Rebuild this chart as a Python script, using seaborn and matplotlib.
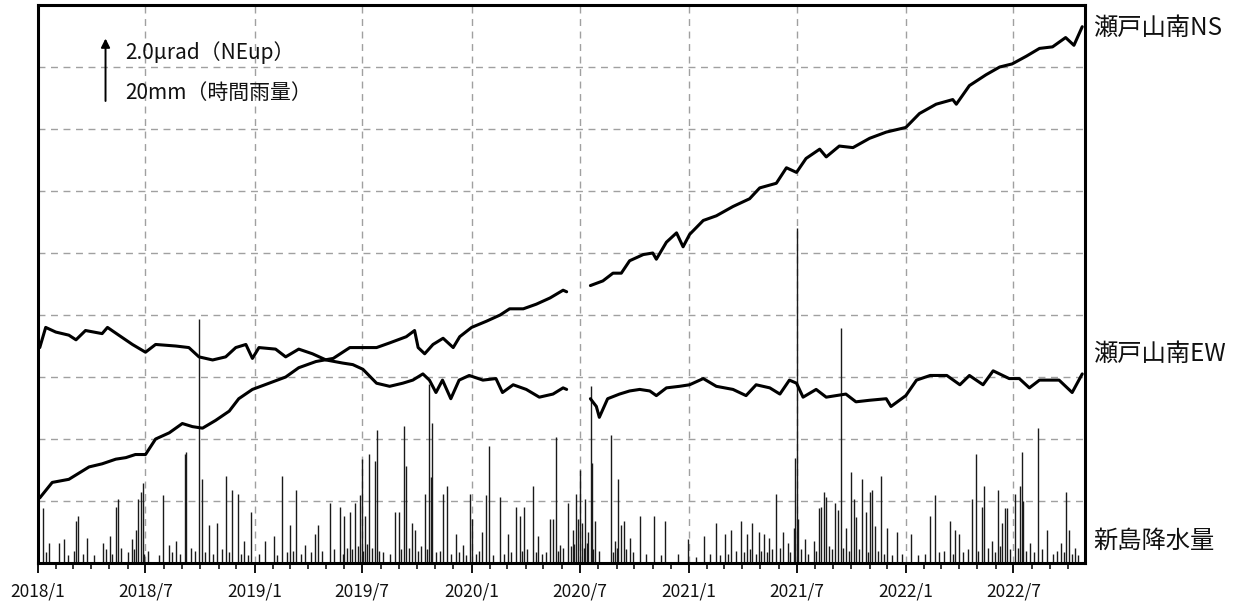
import pandas as pd
import matplotlib.pyplot as plt
import matplotlib.dates as mdates
import seaborn as sns

# Seto-yamaminami tiltmeter (NS / EW, microradian, relative) and Niijima hourly rainfall (mm)
ns_dates = [
    "2018-01-04", "2018-01-25", "2018-02-22", "2018-03-11", "2018-03-28", "2018-04-19",
    "2018-05-12", "2018-05-29", "2018-06-14", "2018-07-01", "2018-07-18", "2018-08-10",
    "2018-09-01", "2018-09-18", "2018-10-05", "2018-10-27", "2018-11-19", "2018-12-05",
    "2018-12-28", "2019-01-25", "2019-02-22", "2019-03-16", "2019-04-14", "2019-05-13",
    "2019-06-10", "2019-07-03", "2019-07-25", "2019-08-16", "2019-09-13", "2019-09-27",
    "2019-10-03", "2019-10-14", "2019-10-28", "2019-11-14", "2019-12-01", "2019-12-12",
    "2020-01-01", "2020-01-26", "2020-02-18", "2020-03-05", "2020-03-28", "2020-04-19",
    "2020-05-12", "2020-06-03", "2020-06-09",
    # observation gap, data resumes
    "2020-07-19", "2020-08-09", "2020-08-26", "2020-09-09", "2020-09-23", "2020-10-16",
    "2020-11-01", "2020-11-07", "2020-11-24", "2020-12-11", "2020-12-22", "2021-01-02",
    "2021-01-25", "2021-02-16", "2021-03-16", "2021-04-13", "2021-04-30", "2021-05-28",
    "2021-06-14", "2021-07-01", "2021-07-17", "2021-08-09", "2021-08-20", "2021-09-11",
    "2021-10-04", "2021-11-01", "2021-11-29", "2022-01-01", "2022-01-24", "2022-02-21",
    "2022-03-21", "2022-03-27", "2022-04-18", "2022-05-16", "2022-06-08", "2022-06-29",
    "2022-07-23", "2022-08-14", "2022-09-05", "2022-09-27", "2022-10-11", "2022-10-25",
]
ns_values = [
    2.1, 2.6, 2.7, 2.9, 3.1, 3.2,
    3.35, 3.4, 3.5, 3.5, 4.0, 4.2,
    4.5, 4.4, 4.35, 4.6, 4.9, 5.3,
    5.6, 5.8, 6.0, 6.3, 6.5, 6.6,
    6.95, 6.95, 6.95, 7.1, 7.3, 7.5,
    6.95, 6.75, 7.05, 7.25, 6.95, 7.3,
    7.6, 7.8, 8.0, 8.2, 8.2, 8.35,
    8.55, 8.8, 8.75,
    8.95, 9.1, 9.35, 9.35, 9.75, 9.95,
    10.0, 9.8, 10.35, 10.65, 10.2, 10.6,
    11.05, 11.2, 11.5, 11.75, 12.1, 12.25,
    12.75, 12.6, 13.05, 13.35, 13.1, 13.45,
    13.4, 13.7, 13.9, 14.05, 14.5, 14.8,
    14.95, 14.8, 15.4, 15.75, 16.0, 16.1,
    16.35, 16.6, 16.65, 16.95, 16.7, 17.3,
]
ns_segment = [1] * 45 + [2] * 42

ew_dates = [
    "2018-01-04", "2018-01-14", "2018-01-31", "2018-02-22", "2018-03-06", "2018-03-22",
    "2018-04-19", "2018-04-28", "2018-05-17", "2018-06-09", "2018-07-01", "2018-07-18",
    "2018-08-21", "2018-09-12", "2018-09-29", "2018-10-22", "2018-11-13", "2018-11-30",
    "2018-12-17", "2018-12-28", "2019-01-08", "2019-02-05", "2019-02-22", "2019-03-16",
    "2019-04-08", "2019-05-01", "2019-05-29", "2019-06-15", "2019-07-02", "2019-07-25",
    "2019-08-16", "2019-09-07", "2019-09-24", "2019-10-11", "2019-10-22", "2019-11-02",
    "2019-11-13", "2019-11-27", "2019-12-11", "2019-12-28", "2020-01-20", "2020-02-11",
    "2020-02-22", "2020-03-11", "2020-04-02", "2020-04-24", "2020-05-17", "2020-06-03",
    "2020-06-09",
    # observation gap, data resumes
    "2020-07-19", "2020-07-29", "2020-08-03", "2020-08-17", "2020-09-06", "2020-09-23",
    "2020-10-10", "2020-10-27", "2020-11-07", "2020-11-24", "2020-12-16", "2021-01-02",
    "2021-01-25", "2021-02-16", "2021-03-16", "2021-04-07", "2021-04-24", "2021-05-17",
    "2021-06-03", "2021-06-19", "2021-07-01", "2021-07-12", "2021-08-03", "2021-08-20",
    "2021-09-22", "2021-10-09", "2021-11-01", "2021-11-29", "2021-12-07", "2022-01-01",
    "2022-01-19", "2022-02-11", "2022-03-11", "2022-04-02", "2022-04-18", "2022-05-11",
    "2022-05-28", "2022-06-24", "2022-07-11", "2022-07-28", "2022-08-14", "2022-09-16",
    "2022-10-08", "2022-10-25",
]
ew_values = [
    6.95, 7.6, 7.45, 7.35, 7.2, 7.5,
    7.4, 7.6, 7.35, 7.05, 6.8, 7.05,
    7.0, 6.95, 6.65, 6.55, 6.65, 6.95,
    7.05, 6.6, 6.95, 6.9, 6.65, 6.9,
    6.75, 6.55, 6.45, 6.4, 6.25, 5.8,
    5.7, 5.8, 5.9, 6.1, 5.9, 5.5,
    5.9, 5.3, 5.9, 6.05, 5.9, 5.95,
    5.5, 5.75, 5.6, 5.35, 5.45, 5.65,
    5.6,
    5.3, 5.05, 4.7, 5.3, 5.45, 5.55,
    5.6, 5.55, 5.4, 5.65, 5.7, 5.75,
    5.95, 5.7, 5.6, 5.4, 5.75, 5.65,
    5.45, 5.9, 5.8, 5.35, 5.6, 5.35,
    5.45, 5.2, 5.25, 5.3, 5.05, 5.4,
    5.9, 6.05, 6.05, 5.75, 6.05, 5.75,
    6.2, 5.95, 5.95, 5.65, 5.9, 5.9,
    5.5, 6.1,
]
ew_segment = [1] * 49 + [2] * 44

# the taller rain events
rain_dates = [
    "2018-01-09", "2018-01-20", "2018-02-06", "2018-02-14", "2018-03-06", "2018-03-10",
    "2018-03-25", "2018-04-20", "2018-05-02", "2018-05-12", "2018-05-15", "2018-06-09",
    "2018-06-15", "2018-06-19", "2018-06-23", "2018-06-26", "2018-07-30", "2018-08-10",
    "2018-08-21", "2018-09-05", "2018-09-08", "2018-09-29", "2018-10-04", "2018-10-16",
    "2018-10-30", "2018-11-14", "2018-11-24", "2018-12-03", "2018-12-14", "2018-12-25",
    "2019-01-19", "2019-02-02", "2019-02-16", "2019-03-02", "2019-03-11", "2019-03-26",
    "2019-04-12", "2019-04-18", "2019-05-07", "2019-05-24", "2019-06-01", "2019-06-10",
    "2019-06-18", "2019-06-27", "2019-06-30", "2019-07-05", "2019-07-13", "2019-07-22",
    "2019-07-26", "2019-08-25", "2019-09-01", "2019-09-09", "2019-09-12", "2019-09-22",
    "2019-09-27", "2019-10-14", "2019-10-21", "2019-10-24", "2019-10-27", "2019-11-14",
    "2019-11-21", "2019-12-06", "2019-12-17", "2019-12-29", "2020-01-02", "2020-01-19",
    "2020-01-25", "2020-01-30", "2020-02-17", "2020-03-02", "2020-03-15", "2020-03-22",
    "2020-03-29", "2020-04-13", "2020-04-22", "2020-05-12", "2020-05-17", "2020-05-22",
    "2020-05-28", "2020-06-12", "2020-06-19", "2020-06-25", "2020-06-28", "2020-07-02",
    "2020-07-05", "2020-07-10", "2020-07-15", "2020-07-20", "2020-07-21", "2020-07-27",
    "2020-08-23", "2020-08-29", "2020-09-04", "2020-09-09", "2020-09-13", "2020-09-24",
    "2020-10-10", "2020-11-03", "2020-11-22", "2020-12-13", "2020-12-30", "2021-01-26",
    "2021-02-15", "2021-03-02", "2021-03-13", "2021-03-29", "2021-04-09", "2021-04-17",
    "2021-04-29", "2021-05-08", "2021-05-16", "2021-05-28", "2021-06-09", "2021-06-16",
    "2021-06-26", "2021-06-29", "2021-07-02", "2021-07-04", "2021-07-15", "2021-07-31",
    "2021-08-08", "2021-08-12", "2021-08-16", "2021-08-20", "2021-09-03", "2021-09-09",
    "2021-09-14", "2021-09-22", "2021-10-01", "2021-10-05", "2021-10-09", "2021-10-20",
    "2021-10-26", "2021-11-01", "2021-11-05", "2021-11-10", "2021-11-21", "2021-12-01",
    "2021-12-17", "2022-01-10", "2022-02-11", "2022-02-19", "2022-03-17", "2022-03-25",
    "2022-04-01", "2022-04-22", "2022-04-29", "2022-05-09", "2022-05-13", "2022-05-26",
    "2022-06-06", "2022-06-12", "2022-06-17", "2022-06-21", "2022-07-04", "2022-07-12",
    "2022-07-15", "2022-07-18", "2022-07-29", "2022-08-12", "2022-08-26", "2022-09-19",
    "2022-09-28", "2022-10-03", "2022-10-12",
]
rain_mm = [
    17.6, 6.5, 6.5, 7.6, 13.5, 15.3,
    8.2, 6.5, 8.8, 18.2, 20.6, 7.6,
    10.6, 20.6, 22.9, 25.9, 21.8, 5.9,
    7.0, 35.3, 35.9, 78.8, 27.0, 12.4,
    12.9, 28.2, 23.5, 22.4, 7.0, 16.5,
    7.0, 8.8, 28.2, 12.4, 23.5, 5.9,
    9.4, 12.4, 19.4, 18.2, 15.3, 16.5,
    19.4, 21.8, 33.5, 15.3, 35.3, 32.9,
    42.9, 16.5, 16.5, 44.1, 31.2, 12.9,
    10.6, 22.4, 57.6, 27.6, 45.3, 22.4,
    24.7, 9.4, 5.9, 22.4, 14.1, 10.0,
    21.8, 37.6, 21.2, 9.4, 18.2, 15.3,
    18.2, 24.7, 8.8, 14.1, 14.1, 40.6,
    5.9, 19.4, 10.6, 22.4, 14.1, 30.0,
    12.9, 20.6, 10.0, 57.0, 32.4, 13.5,
    41.2, 7.0, 27.0, 12.4, 13.5, 8.2,
    15.3, 15.3, 13.5, 2.9, 7.6, 8.8,
    12.9, 9.4, 10.6, 13.5, 9.4, 12.9,
    10.0, 9.4, 8.2, 22.4, 10.0, 6.5,
    11.2, 34.0, 108.0, 14.1, 7.6, 7.0,
    17.6, 18.2, 22.9, 21.2, 19.4, 17.0,
    75.9, 11.2, 29.4, 20.6, 14.7, 27.0,
    16.5, 22.9, 23.5, 11.8, 28.2, 11.2,
    10.0, 9.4, 15.3, 21.8, 13.5, 10.6,
    9.4, 20.6, 35.3, 18.2, 24.7, 7.0,
    23.5, 12.9, 17.6, 17.6, 22.4, 24.7,
    35.9, 20.0, 6.5, 43.5, 10.6, 6.5,
    22.9, 10.6, 4.7,
]

# light showers forming the low fringe along the bottom
drizzle_dates = [
    "2018-01-15", "2018-02-20", "2018-03-03", "2018-03-18", "2018-04-05", "2018-04-26",
    "2018-05-06", "2018-05-21", "2018-06-02", "2018-06-12", "2018-06-29", "2018-07-06",
    "2018-07-24", "2018-08-15", "2018-08-28", "2018-09-15", "2018-09-22", "2018-10-09",
    "2018-10-22", "2018-11-06", "2018-11-19", "2018-12-08", "2018-12-20", "2019-01-08",
    "2019-02-08", "2019-02-24", "2019-03-06", "2019-03-19", "2019-04-05", "2019-04-24",
    "2019-05-14", "2019-05-30", "2019-06-05", "2019-06-14", "2019-06-23", "2019-07-02",
    "2019-07-09", "2019-07-17", "2019-07-29", "2019-08-05", "2019-08-17", "2019-09-04",
    "2019-09-17", "2019-10-02", "2019-10-08", "2019-10-18", "2019-11-02", "2019-11-08",
    "2019-11-27", "2019-12-11", "2019-12-23", "2020-01-09", "2020-01-14", "2020-02-06",
    "2020-02-25", "2020-03-08", "2020-03-26", "2020-04-04", "2020-04-18", "2020-04-28",
    "2020-05-06", "2020-05-26", "2020-06-03", "2020-06-16", "2020-06-22", "2020-07-08",
    "2020-07-13", "2020-07-24", "2020-08-02", "2020-08-26", "2020-09-02", "2020-09-17",
    "2020-09-29", "2020-10-21", "2020-11-14", "2021-01-12", "2021-02-05", "2021-02-23",
    "2021-03-07", "2021-03-21", "2021-04-03", "2021-04-13", "2021-04-23", "2021-05-03",
    "2021-05-12", "2021-05-21", "2021-06-03", "2021-06-20", "2021-07-08", "2021-07-20",
    "2021-08-03", "2021-08-24", "2021-08-29", "2021-09-18", "2021-09-27", "2021-10-14",
    "2021-10-30", "2021-11-15", "2021-11-26", "2021-12-08", "2021-12-25", "2022-01-22",
    "2022-02-03", "2022-02-26", "2022-03-06", "2022-03-21", "2022-04-08", "2022-04-15",
    "2022-05-03", "2022-05-19", "2022-05-31", "2022-06-09", "2022-06-25", "2022-07-08",
    "2022-07-22", "2022-08-04", "2022-08-18", "2022-09-06", "2022-09-13", "2022-09-24",
    "2022-10-07", "2022-10-18",
]
drizzle_mm = [
    3.5, 2.5, 4.0, 3.0, 2.5, 4.5,
    3.0, 5.0, 3.5, 4.5, 3.0, 4.0,
    2.5, 3.5, 3.0, 5.0, 4.0, 3.5,
    3.0, 4.5, 3.5, 3.0, 2.5, 3.0,
    2.5, 3.5, 4.0, 3.0, 3.5, 4.0,
    4.5, 3.0, 5.0, 4.5, 5.5, 4.0,
    6.0, 5.0, 4.0, 3.5, 3.0, 4.5,
    5.0, 4.0, 5.5, 4.5, 3.5, 4.0,
    3.0, 3.5, 2.5, 3.0, 4.0, 2.5,
    3.0, 3.5, 4.0, 4.5, 3.5, 3.0,
    3.5, 4.0, 5.0, 5.5, 6.0, 5.0,
    6.5, 4.5, 4.0, 3.5, 5.0, 4.5,
    3.5, 3.0, 2.5, 2.0, 3.0, 2.5,
    3.0, 4.0, 3.5, 4.5, 3.0, 4.0,
    3.5, 4.5, 5.0, 3.5, 4.5, 3.0,
    4.0, 5.5, 4.5, 5.0, 4.0, 4.5,
    3.5, 4.0, 3.0, 2.5, 3.0, 2.5,
    3.0, 3.5, 4.0, 3.0, 3.5, 4.5,
    4.0, 5.0, 3.5, 5.5, 4.5, 5.0,
    4.0, 3.5, 4.5, 3.0, 4.0, 3.5,
    3.0, 2.5,
]

series_labels = ["瀬戸山南NS", "瀬戸山南EW", "新島降水量"]
scale_text = ["2.0μrad（NEup）", "20mm（時間雨量）"]

# 20 mm of rain is drawn the same height as 2.0 microradian of tilt
RAIN_SCALE = 2.0 / 20.0

ns = pd.DataFrame({"date": pd.to_datetime(ns_dates), "tilt": ns_values, "seg": ns_segment})
ew = pd.DataFrame({"date": pd.to_datetime(ew_dates), "tilt": ew_values, "seg": ew_segment})
rain = pd.concat([
    pd.DataFrame({"date": pd.to_datetime(rain_dates), "mm": rain_mm}),
    pd.DataFrame({"date": pd.to_datetime(drizzle_dates), "mm": drizzle_mm}),
], ignore_index=True)
rain["h"] = rain["mm"] * RAIN_SCALE

sns.set_theme(style="white")
plt.rcParams["font.family"] = ["Noto Sans CJK JP", "DejaVu Sans"]

fig = plt.figure(figsize=(12.37, 6.03), dpi=100)
ax = fig.add_axes([0.0307, 0.0663, 0.8466, 0.9254])

ax.vlines(rain["date"], 0, rain["h"], color="#1a1a1a", linewidth=1.0, zorder=2)
sns.lineplot(data=ns, x="date", y="tilt", units="seg", estimator=None,
             color="black", linewidth=2.2, ax=ax, zorder=3)
sns.lineplot(data=ew, x="date", y="tilt", units="seg", estimator=None,
             color="black", linewidth=2.2, ax=ax, zorder=3)

ax.set_xlim(pd.Timestamp("2018-01-01"), pd.Timestamp("2022-10-30"))
ax.set_ylim(0, 18)
ax.set_yticks(range(0, 19, 2))
ax.set_yticklabels([])
ax.tick_params(axis="y", length=0)

ax.xaxis.set_major_locator(mdates.MonthLocator(bymonth=[1, 7]))
ax.xaxis.set_minor_locator(mdates.MonthLocator())
ax.xaxis.set_major_formatter(
    plt.FuncFormatter(lambda v, pos: f"{mdates.num2date(v).year}/{mdates.num2date(v).month}"))
ax.tick_params(axis="x", which="major", direction="out", length=7, width=1.3,
               labelsize=12.5, labelcolor="#111111", pad=7, bottom=True, color="black")
ax.tick_params(axis="x", which="minor", direction="out", length=4, width=1.1,
               bottom=True, color="black")

ax.grid(True, which="major", color="#a0a0a0", linestyle=(0, (5, 4)), linewidth=1.0)
ax.set_axisbelow(True)
ax.set_xlabel("")
ax.set_ylabel("")
for sp in ax.spines.values():
    sp.set_color("black")
    sp.set_linewidth(2.2)

# scale arrow in the upper-left corner
ax.annotate("", xy=(0.0645, 0.945), xytext=(0.0645, 0.823), xycoords="axes fraction",
            arrowprops=dict(arrowstyle="-|>", color="black", lw=1.4, mutation_scale=13))
ax.text(0.083, 0.914, scale_text[0], transform=ax.transAxes, fontsize=15,
        va="center", ha="left", color="#111111")
ax.text(0.083, 0.843, scale_text[1], transform=ax.transAxes, fontsize=15,
        va="center", ha="left", color="#111111")

# series names to the right of the frame
label_y = [0.959, 0.374, 0.039]
for name, yy in zip(series_labels, label_y):
    ax.text(1.0076, yy, name, transform=ax.transAxes, fontsize=17.5,
            va="center", ha="left", color="#111111")

fig.savefig("out.png", dpi=100)
